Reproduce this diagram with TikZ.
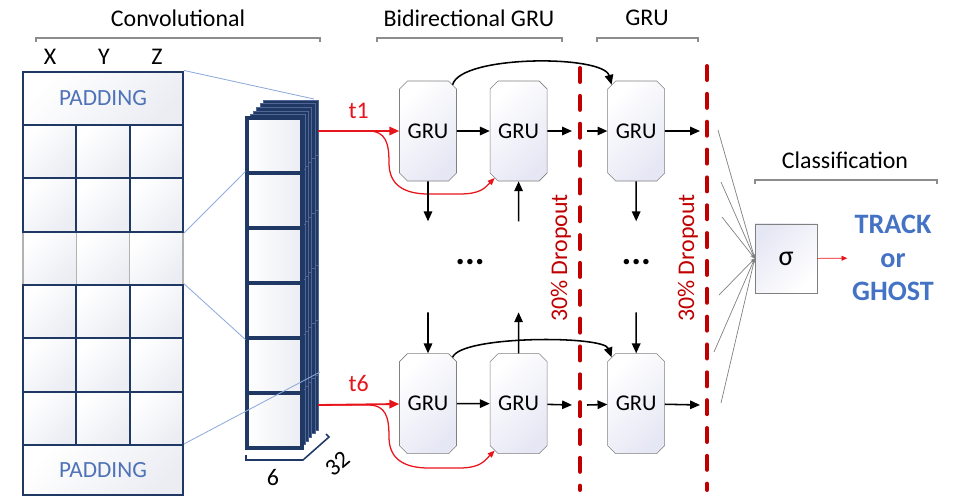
\documentclass[tikz,border=0pt]{standalone}
\usepackage{fontspec}
\setmainfont{Carlito}
\usepackage{xcolor}
\usepackage{tikz}
\usetikzlibrary{shapes.misc, positioning, calc, arrows.meta}

\definecolor{navy}{HTML}{1F3864}
\definecolor{navyedge}{HTML}{4F6696}
\definecolor{projline}{HTML}{8FAADC}
\definecolor{dropred}{HTML}{C00000}
\definecolor{inred}{HTML}{E8141B}
\definecolor{resultblue}{HTML}{4472C4}
\definecolor{padblue}{HTML}{4F72B8}
\definecolor{cellgray}{HTML}{EBEDF3}
\definecolor{grulav}{HTML}{E6E7F4}
\definecolor{bracegray}{HTML}{8C8C8C}

\begin{document}
\begin{tikzpicture}[x=0.025cm, y=-0.025cm,
font=\fontsize{17}{20}\selectfont,
cell/.style={rectangle, draw=navy, line width=1.6pt, minimum width=1.333cm, minimum height=1.333cm, inner sep=0pt, left color=white, right color=cellgray, shading angle=45},
fadecell/.style={cell, draw=gray!60, line width=0.8pt},
padbox/.style={rectangle, draw=navy, line width=1.6pt, minimum width=4cm, inner sep=0pt, left color=white, right color=cellgray, shading angle=45, text=padblue, font=\fontsize{16.5}{20}\selectfont},
stackcell/.style={rectangle, draw=navy, line width=2.2pt, minimum size=1.375cm, inner sep=0pt, left color=white, right color=cellgray},
layer/.style={fill=navy, draw=navyedge, line width=0.3pt},
proj/.style={draw=projline, line width=0.6pt},
brace/.style={draw=bracegray, line width=0.8pt},
dimbrace/.style={draw=navy, line width=1.1pt},
gru/.style={chamfered rectangle, chamfered rectangle sep=0.1cm, draw=gray, minimum width=1.425cm, minimum height=2.5cm, inner sep=0pt, left color=white, right color=grulav, shading angle=45, font=\fontsize{16}{19}\selectfont},
sigmabox/.style={rectangle, draw=gray, minimum width=1.55cm, minimum height=1.725cm, left color=grulav, right color=white, shading angle=45, font=\fontsize{20}{24}\selectfont},
arrow/.style={-{Triangle[length=7pt,width=6pt]}, line width=1.1pt},
inarrow/.style={-{Triangle[length=7pt,width=6pt]}, line width=1.3pt, draw=inred},
incurve/.style={-{Triangle[length=5pt,width=4pt]}, line width=0.9pt, draw=inred},
fan/.style={-{Stealth[length=3pt,width=3pt]}, draw=gray, line width=0.5pt},
outarrow/.style={-{Triangle[length=4pt,width=3.5pt]}, line width=0.5pt, draw=inred},
dropline/.style={draw=dropred, line width=2.8pt, line cap=round, dash pattern=on 10pt off 9.8pt},
droplabel/.style={rotate=90, text=dropred},
dots/.style={font=\fontsize{26}{26}\selectfont\bfseries},
result/.style={align=center, text=resultblue, font=\fontsize{20}{24}\selectfont\bfseries}
]
\useasboundingbox (0,0) rectangle (961,496);

% Section titles
\node (conv_title) at (178,18) {Convolutional};
\draw[brace] (36,42) -- (36,38) -- (320,38) -- (320,42);
\node (bigru_title) at (469,18) {Bidirectional GRU};
\draw[brace] (377,42) -- (377,38) -- (562,38) -- (562,42);
\node (gru_title) at (647,18) {GRU};
\draw[brace] (597,42) -- (597,38) -- (698,38) -- (698,42);

% Input grid
\node (col_x) at (50,57) {X};
\node (col_y) at (104,57) {Y};
\node (col_z) at (157,57) {Z};
\foreach \c in {1,2,3}
  \node[fadecell] (hit_3_\c) at ({23+53.33*(\c-0.5)}, {125+53.33*2.5}) {};
\foreach \r in {1,2,4,5,6}
  \foreach \c in {1,2,3}
    \node[cell] (hit_\r_\c) at ({23+53.33*(\c-0.5)}, {125+53.33*(\r-0.5)}) {};
\node[padbox, minimum height=1.333cm] (pad_top) at (103,98.3) {PADDING};
\node[padbox, minimum height=1.25cm] (pad_bottom) at (103,470) {PADDING};

% Feature maps
\foreach \l in {5,...,1}
  \foreach \i in {1,...,6}
    \draw[layer] ({247+3.2*\l}, {118+55*(\i-1)-3.6*\l}) rectangle ({302+3.2*\l}, {118+55*\i-3.6*\l});
\foreach \i in {1,...,6}
  \node[stackcell] (feat_\i) at (274.5, {118+55*(\i-0.5)}) {};
\draw[dimbrace] (246,455) -- (246,460) -- (303,460) -- (329,437) -- (326,434);
\node (dim_six) at (273,478) {6};
\node[rotate=40] (dim_filters) at (338,464) {32};

% Projection lines
\coordinate (stack_top) at (314,99);
\coordinate (stack_back) at (320,372);
\draw[proj] (pad_top.north east) -- (stack_top);
\draw[proj] (hit_2_3.south east) -- (feat_2.north west);
\draw[proj] (hit_4_3.north east) -- (feat_4.south west);
\draw[proj] (pad_bottom.north east) -- (stack_back);

% GRU layers
\node[gru] (gru_top_fwd) at (428,131) {GRU};
\node[gru, right=0.825cm of gru_top_fwd] (gru_top_bwd) {GRU};
\node[gru, right=1.5cm of gru_top_bwd] (gru_top_out) {GRU};
\node[gru, below=4.3cm of gru_top_fwd] (gru_bot_fwd) {GRU};
\node[gru, right=0.825cm of gru_bot_fwd] (gru_bot_bwd) {GRU};
\node[gru, right=1.5cm of gru_bot_bwd] (gru_bot_out) {GRU};

\node[dots] (dots_bi) at (470,262) {...};
\node[dots] (dots_uni) at (gru_top_out |- dots_bi) {...};

% Time steps in
\coordinate (in_t1) at (318,131);
\coordinate (in_t6) at (318,405);
\draw[inarrow] (in_t1) -- node[above=5pt, text=inred] (lab_t1) {t1} (gru_top_fwd);
\draw[inarrow] (in_t6) -- node[above=5pt, text=inred] (lab_t6) {t6} (gru_bot_fwd);
\draw[incurve] (in_t1) -- ++(50,0) .. controls +(18,0) and +(0,-20) .. ++(21,32) .. controls +(0,22) and +(-25,0) .. ++(40,31) -- ++(30,0) .. controls +(22,0) and +(-10,10) .. (gru_top_bwd.243);
\draw[incurve] (in_t6) -- ++(50,0) .. controls +(18,0) and +(0,-20) .. ++(21,32) .. controls +(0,22) and +(-25,0) .. ++(40,31) -- ++(30,0) .. controls +(22,0) and +(-10,10) .. (gru_bot_bwd.243);

% Horizontal flow
\coordinate (top_drop1_in) at (572,131);
\coordinate (top_drop1_out) at (587,131);
\coordinate (top_drop2_in) at (700,131);
\coordinate (bot_drop1_in) at (572,405);
\coordinate (bot_drop1_out) at (587,405);
\coordinate (bot_drop2_in) at (700,405);
\draw[arrow] (gru_top_fwd) -- (gru_top_bwd);
\draw[arrow] (gru_top_bwd) -- (top_drop1_in);
\draw[arrow] (top_drop1_out) -- (gru_top_out);
\draw[arrow] (gru_top_out) -- (top_drop2_in);
\draw[arrow] (gru_bot_fwd) -- (gru_bot_bwd);
\draw[arrow] (gru_bot_bwd) -- (bot_drop1_in);
\draw[arrow] (bot_drop1_out) -- (gru_bot_out);
\draw[arrow] (gru_bot_out) -- (bot_drop2_in);
\draw[arrow] (gru_top_fwd.62) .. controls +(8,-30) and +(-8,-30) .. (gru_top_out.118);
\draw[arrow] (gru_bot_fwd.62) .. controls +(8,-22) and +(-8,-22) .. (gru_bot_out.118);

% Vertical flow to the hidden steps
\coordinate (top_fwd_down) at ($(gru_top_fwd.south)+(0,40)$);
\coordinate (top_bwd_up) at ($(gru_top_bwd.south)+(0,40)$);
\coordinate (top_out_down) at ($(gru_top_out.south)+(0,40)$);
\coordinate (bot_fwd_down) at ($(gru_bot_fwd.north)+(0,-41)$);
\coordinate (bot_bwd_up) at ($(gru_bot_bwd.north)+(0,-41)$);
\coordinate (bot_out_down) at ($(gru_bot_out.north)+(0,-41)$);
\draw[arrow] (gru_top_fwd) -- (top_fwd_down);
\draw[arrow] (top_bwd_up) -- (gru_top_bwd);
\draw[arrow] (gru_top_out) -- (top_out_down);
\draw[arrow] (bot_fwd_down) -- (gru_bot_fwd);
\draw[arrow] (gru_bot_bwd) -- (bot_bwd_up);
\draw[arrow] (bot_out_down) -- (gru_bot_out);

% Dropout
\draw[dropline] (580,68) -- (580,490);
\draw[dropline] (707,66) -- (707,490);
\node[droplabel] (drop1_label) at (561,258) {30\% Dropout};
\node[droplabel] (drop2_label) at (688,258) {30\% Dropout};

% Classification
\node (class_title) at (845,160) {Classification};
\draw[brace] (755,184) -- (755,180) -- (937,180) -- (937,184);
\node[sigmabox] (sigma) at (786,258.5) {σ};
\foreach \k/\x/\y in {1/718/130, 2/721/182, 3/722/217, 4/719/295, 5/714/352, 6/721/403}
  \coordinate (fan_\k) at (\x,\y);
\foreach \k in {1,...,6}
  \draw[fan] (fan_\k) -- (sigma.west);
\node[result] (result) at (893,258) {TRACK\\or\\GHOST};
\draw[outarrow] (sigma) -- (result);

\end{tikzpicture}
\end{document}
